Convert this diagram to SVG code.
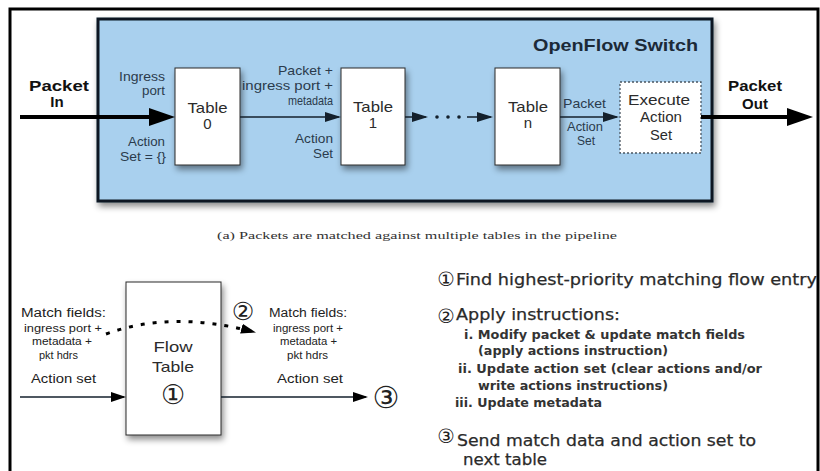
<svg xmlns="http://www.w3.org/2000/svg" width="820" height="471" viewBox="0 0 820 471">
  <style>
    .frame { fill: none; stroke: #000; stroke-width: 3; }
    .switch { fill: #a9d0ee; stroke: #0b1620; stroke-width: 3; }
    .table { fill: #fff; stroke: #2a2a2a; stroke-width: 1; }
    .exec { fill: #fff; stroke: #4a5560; stroke-width: 1.3; stroke-dasharray: 2 2; }
    .wire { fill: none; stroke: #14202c; stroke-width: 1.5; }
    .thick { fill: none; stroke: #000; stroke-width: 4; }
    .dotted { fill: none; stroke: #000; stroke-width: 3; stroke-dasharray: 4 8; }
    .lbl { font-family: "Liberation Sans", Arial, sans-serif; fill: #2b3b4c; font-size: 13px; }
    .tname { font-family: "Liberation Sans", Arial, sans-serif; fill: #2b2b2b; font-size: 15px; text-anchor: middle; }
    .big { font-family: "Liberation Sans", Arial, sans-serif; fill: #111; font-size: 15px; font-weight: bold; text-anchor: middle; }
    .title { font-family: "Liberation Sans", Arial, sans-serif; fill: #1c2a38; font-size: 17px; font-weight: bold; }
    .cap { font-family: "Liberation Serif", "Times New Roman", serif; fill: #333; font-size: 11px; }
    .fl { font-family: "Liberation Sans", Arial, sans-serif; fill: #222; }
    .num { font-family: "DejaVu Sans", sans-serif; fill: #222; text-anchor: middle; }
    .step { font-family: "DejaVu Sans", sans-serif; fill: #2a2a2a; font-size: 16px; stroke: #2a2a2a; stroke-width: 0.25; }
    .sub { font-family: "DejaVu Sans", sans-serif; fill: #333; font-size: 13px; font-weight: bold; }
  </style>
  <defs>
    <filter id="shadow" x="-20%" y="-20%" width="150%" height="150%">
      <feDropShadow dx="2" dy="4" stdDeviation="3" flood-color="#000" flood-opacity="0.45"/>
    </filter>
    <marker id="bigArrow" markerUnits="userSpaceOnUse" markerWidth="26" markerHeight="18" refX="16" refY="9" orient="auto">
      <path d="M0,0 L26,9 L0,18 z" fill="#000"/>
    </marker>
    <marker id="arrow" markerUnits="userSpaceOnUse" markerWidth="16" markerHeight="10" refX="14" refY="5" orient="auto">
      <path d="M0,0 L16,5 L0,10 z" fill="#14202c"/>
    </marker>
    <marker id="arrowK" markerUnits="userSpaceOnUse" markerWidth="15" markerHeight="10" refX="13" refY="5" orient="auto">
      <path d="M0,0 L15,5 L0,10 z" fill="#000"/>
    </marker>
  </defs>

  <!-- page frame -->
  <path class="frame" d="M10,471 L10,9 L818,9 L818,471"/>

  <!-- (a) pipeline -->
  <g id="openflow-switch">
    <rect class="switch" x="98" y="19" width="614" height="182" filter="url(#shadow)"/>
    <text class="title" x="533" y="51" textLength="165" lengthAdjust="spacingAndGlyphs">OpenFlow Switch</text>
  </g>

  <g id="packet-in">
    <text class="big" x="59" y="91" textLength="60" lengthAdjust="spacingAndGlyphs">Packet</text>
    <text class="big" x="57" y="107">In</text>
  </g>

  <g id="table-0">
    <rect class="table" x="175" y="68" width="65" height="97" filter="url(#shadow)"/>
    <text class="tname" x="207.5" y="113" textLength="40" lengthAdjust="spacingAndGlyphs">Table</text>
    <text class="tname" x="207.5" y="129">0</text>
    <text class="lbl" x="165" y="81" text-anchor="end" textLength="46" lengthAdjust="spacingAndGlyphs">Ingress</text>
    <text class="lbl" x="165" y="95" text-anchor="end" textLength="23" lengthAdjust="spacingAndGlyphs">port</text>
    <text class="lbl" x="165" y="146" text-anchor="end" textLength="37" lengthAdjust="spacingAndGlyphs">Action</text>
    <text class="lbl" x="166" y="161" text-anchor="end" textLength="46" lengthAdjust="spacingAndGlyphs">Set = {}</text>
  </g>

  <g id="table-1">
    <rect class="table" x="341" y="68" width="64" height="97" filter="url(#shadow)"/>
    <text class="tname" x="373" y="112" textLength="40" lengthAdjust="spacingAndGlyphs">Table</text>
    <text class="tname" x="373" y="128">1</text>
    <text class="lbl" x="333" y="75" text-anchor="end" textLength="55" lengthAdjust="spacingAndGlyphs">Packet +</text>
    <text class="lbl" x="333" y="90" text-anchor="end" textLength="91" lengthAdjust="spacingAndGlyphs">ingress port +</text>
    <text class="lbl" x="333" y="105" text-anchor="end" textLength="45" lengthAdjust="spacingAndGlyphs">metadata</text>
    <text class="lbl" x="333" y="143" text-anchor="end" textLength="38" lengthAdjust="spacingAndGlyphs">Action</text>
    <text class="lbl" x="333" y="158" text-anchor="end" textLength="20" lengthAdjust="spacingAndGlyphs">Set</text>
  </g>

  <g id="table-n">
    <rect class="table" x="495" y="68" width="65" height="97" filter="url(#shadow)"/>
    <text class="tname" x="528" y="112" textLength="40" lengthAdjust="spacingAndGlyphs">Table</text>
    <text class="tname" x="528" y="128">n</text>
    <text class="lbl" x="563" y="108" font-size="12" textLength="43" lengthAdjust="spacingAndGlyphs">Packet</text>
    <text class="lbl" x="585" y="131" font-size="12" text-anchor="middle" textLength="36" lengthAdjust="spacingAndGlyphs">Action</text>
    <text class="lbl" x="586" y="145" font-size="12" text-anchor="middle" textLength="18" lengthAdjust="spacingAndGlyphs">Set</text>
  </g>

  <g id="execute-action-set">
    <rect class="exec" x="620" y="82" width="81" height="71"/>
    <text class="tname" x="659" y="105" textLength="62" lengthAdjust="spacingAndGlyphs">Execute</text>
    <text class="tname" x="661" y="122" textLength="42" lengthAdjust="spacingAndGlyphs">Action</text>
    <text class="tname" x="661" y="140" textLength="22" lengthAdjust="spacingAndGlyphs">Set</text>
  </g>

  <g id="packet-out">
    <text class="big" x="755" y="91" textLength="54" lengthAdjust="spacingAndGlyphs">Packet</text>
    <text class="big" x="755" y="109">Out</text>
  </g>

  <g id="pipeline-connectors">
    <path class="thick" d="M20,117 L165,117" marker-end="url(#bigArrow)"/>
    <path class="wire" d="M240,117 L339,117" marker-end="url(#arrow)"/>
    <path class="wire" d="M405,117 L426,117" marker-end="url(#arrow)"/>
    <circle cx="437" cy="117" r="1.8" fill="#14202c"/>
    <circle cx="448" cy="117" r="1.8" fill="#14202c"/>
    <circle cx="459" cy="117" r="1.8" fill="#14202c"/>
    <path class="wire" d="M467,117 L491,117" marker-end="url(#arrow)"/>
    <path class="wire" d="M560,117 L617,117" marker-end="url(#arrow)"/>
    <path class="thick" d="M701,117 L803,117" marker-end="url(#bigArrow)"/>
  </g>

  <text class="cap" x="217" y="239" textLength="400" lengthAdjust="spacingAndGlyphs">(a) Packets are matched against multiple tables in the pipeline</text>

  <!-- (b) per-table processing -->
  <g id="flow-table">
    <rect class="table" x="126" y="282" width="95" height="153" filter="url(#shadow)"/>
    <text class="tname" x="173" y="352" textLength="39" lengthAdjust="spacingAndGlyphs">Flow</text>
    <text class="tname" x="173" y="372" textLength="42" lengthAdjust="spacingAndGlyphs">Table</text>
    <text class="num" x="173" y="404" font-size="27">①</text>
  </g>

  <g id="input-fields">
    <text class="fl" x="21" y="317" font-size="12.5" textLength="85" lengthAdjust="spacingAndGlyphs">Match fields:</text>
    <text class="fl" x="24" y="332" font-size="10" textLength="78" lengthAdjust="spacingAndGlyphs">ingress port +</text>
    <text class="fl" x="32" y="345" font-size="10" textLength="60" lengthAdjust="spacingAndGlyphs">metadata +</text>
    <text class="fl" x="39" y="359" font-size="10" textLength="39" lengthAdjust="spacingAndGlyphs">pkt hdrs</text>
    <text class="fl" x="31" y="383" font-size="13" textLength="65" lengthAdjust="spacingAndGlyphs">Action set</text>
  </g>

  <g id="output-fields">
    <text class="num" x="243" y="320" font-size="25">②</text>
    <text class="fl" x="269" y="317" font-size="12.5" textLength="78" lengthAdjust="spacingAndGlyphs">Match fields:</text>
    <text class="fl" x="273" y="332" font-size="10" textLength="70" lengthAdjust="spacingAndGlyphs">ingress port +</text>
    <text class="fl" x="280" y="345" font-size="10" textLength="57" lengthAdjust="spacingAndGlyphs">metadata +</text>
    <text class="fl" x="287" y="359" font-size="10" textLength="41" lengthAdjust="spacingAndGlyphs">pkt hdrs</text>
    <text class="fl" x="277" y="383" font-size="13" textLength="66" lengthAdjust="spacingAndGlyphs">Action set</text>
  </g>

  <g id="next-table">
    <text class="num" x="386" y="408" font-size="30">③</text>
  </g>

  <g id="flow-connectors">
    <path class="dotted" d="M106,334 Q172,310 254,332" marker-end="url(#arrowK)"/>
    <path class="wire" d="M20,397 L124,397" marker-end="url(#arrowK)"/>
    <path class="wire" d="M221,397 L366,397" marker-end="url(#arrowK)"/>
  </g>

  <g id="steps">
    <text class="num" x="446" y="286" font-size="19.5">①</text>
    <text class="step" x="456" y="285" textLength="361" lengthAdjust="spacingAndGlyphs">Find highest-priority matching flow entry</text>
    <text class="num" x="446" y="323" font-size="19.5">②</text>
    <text class="step" x="456" y="320" textLength="164" lengthAdjust="spacingAndGlyphs">Apply instructions:</text>
    <text class="sub" x="464" y="339" textLength="281" lengthAdjust="spacingAndGlyphs">i. Modify packet &amp; update match fields</text>
    <text class="sub" x="478" y="355" textLength="190" lengthAdjust="spacingAndGlyphs">(apply actions instruction)</text>
    <text class="sub" x="458" y="373" textLength="304" lengthAdjust="spacingAndGlyphs">ii. Update action set (clear actions and/or</text>
    <text class="sub" x="478" y="390" textLength="190" lengthAdjust="spacingAndGlyphs">write actions instructions)</text>
    <text class="sub" x="455" y="407" textLength="147" lengthAdjust="spacingAndGlyphs">iii. Update metadata</text>
    <text class="num" x="446" y="443" font-size="19.5">③</text>
    <text class="step" x="457" y="446" textLength="299" lengthAdjust="spacingAndGlyphs">Send match data and action set to</text>
    <text class="step" x="463" y="465" textLength="84" lengthAdjust="spacingAndGlyphs">next table</text>
  </g>
</svg>
